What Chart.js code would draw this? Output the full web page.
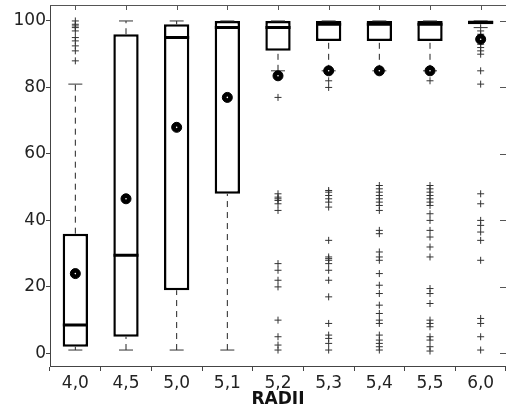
<!DOCTYPE html>
<html>
<head>
<meta charset="utf-8">
<script src="https://cdn.jsdelivr.net/npm/chart.js@4"></script>
<style>
  body { margin: 0; background: #fff; }
  #wrap { width: 506px; height: 413px; }
</style>
</head>
<body>
<div id="wrap"><canvas id="box-chart"></canvas></div>
<script>
"use strict";

// Categories (radii) and box statistics
var radii = ["4,0", "4,5", "5,0", "5,1", "5,2", "5,3", "5,4", "5,5", "6,0"];
var q1 = [2, 5, 19, 48, 91, 94, 94, 94, 99];
var q3 = [36, 96, 99, 100, 100, 100, 100, 100, 100];
var medians = [8.5, 29.5, 95, 98, 98, 99, 99, 99, 99.6];
var means = [24, 46.5, 68, 77, 83.5, 85, 85, 85, 94.5];
var whiskerLow = [1, 1, 1, 1, 85, 85, 85, 85, 98];
var whiskerHigh = [81, 100, 100, 100, 100, 100, 100, 100, 100];
var yTicks = [0, 20, 40, 60, 80, 100];

// Outliers per category
var outliers = [
    [100, 99, 98.5, 98, 97, 95, 94, 92.5, 91, 88],
    [],
    [],
    [],
    [77, 48, 47, 46.5, 46, 45, 43, 27, 25, 22, 20, 10, 5, 2.5, 1],
    [82, 80, 49, 48.5, 47.5, 46.5, 45.5, 44, 34, 29, 28.5, 28, 27, 25, 22, 17, 9, 5.5, 4.5, 3, 1],
    [50.5, 49.5, 48.5, 47.5, 46.5, 45.5, 44.5, 43, 37, 36, 30.5, 29, 28, 24, 20.5, 18, 14.5, 12, 10, 9, 5.5, 4, 3, 2, 1],
    [82, 50.5, 49.5, 48.5, 47.5, 46.5, 45.5, 44.5, 42, 40, 37, 35, 32, 29, 19.5, 18, 15, 10, 9, 8, 5, 4, 2, 0.7],
    [97, 96, 93, 92, 91, 90, 85, 81, 48, 45, 40, 38.5, 36.5, 34, 28, 10.5, 9, 5, 1]
];

function pts(values) {
    return radii.map(function (c, i) { return { x: c, y: values[i] }; });
}

// Whisker segments, broken with nulls
var whiskerPts = [];
radii.forEach(function (c, i) {
    whiskerPts.push({ x: c, y: whiskerLow[i] }, { x: c, y: q1[i] }, { x: c, y: null });
    whiskerPts.push({ x: c, y: q3[i] }, { x: c, y: whiskerHigh[i] }, { x: c, y: null });
});

var capPts = pts(whiskerLow).concat(pts(whiskerHigh));

var outlierPts = [];
radii.forEach(function (c, i) {
    outliers[i].forEach(function (v) { outlierPts.push({ x: c, y: v }); });
});

// Top border and inward ticks on top / right
var frameTicks = {
    id: "frameTicks",
    afterDraw: function (chart) {
        var ctx = chart.ctx, a = chart.chartArea;
        var xs = chart.scales.x, ys = chart.scales.y;
        ctx.save();
        ctx.strokeStyle = "#555";
        ctx.lineWidth = 1;
        ctx.beginPath();
        ctx.moveTo(a.left, a.top + 0.5);
        ctx.lineTo(a.right, a.top + 0.5);
        xs.ticks.forEach(function (t, i) {
            var px = Math.round(xs.getPixelForTick(i)) + 0.5;
            ctx.moveTo(px, a.top);
            ctx.lineTo(px, a.top + 5);
        });
        ys.ticks.forEach(function (t, i) {
            var py = Math.round(ys.getPixelForTick(i)) + 0.5;
            ctx.moveTo(a.right, py);
            ctx.lineTo(a.right - 6, py);
        });
        ctx.stroke();
        ctx.restore();
    }
};

var tickFont = { family: "DejaVu Sans", size: 17 };

new Chart(document.getElementById("box-chart"), {
    type: "bar",
    data: {
        labels: radii,
        datasets: [
            {
                label: "box",
                data: radii.map(function (c, i) { return [q1[i], q3[i]]; }),
                backgroundColor: "#fff",
                borderColor: "#000",
                borderWidth: 2.5,
                borderSkipped: false,
                barPercentage: 0.5,
                categoryPercentage: 1.0,
                order: 6
            },
            {
                type: "line",
                label: "whiskers",
                data: whiskerPts,
                borderColor: "#222",
                borderWidth: 1,
                borderDash: [6, 5],
                pointRadius: 0,
                spanGaps: false,
                order: 5
            },
            {
                type: "line",
                label: "caps",
                data: capPts,
                showLine: false,
                pointStyle: "line",
                pointRadius: 7,
                borderColor: "#333",
                borderWidth: 1,
                order: 4
            },
            {
                type: "line",
                label: "median",
                data: pts(medians),
                showLine: false,
                pointStyle: "line",
                pointRadius: 12.5,
                borderColor: "#000",
                borderWidth: 3,
                order: 3
            },
            {
                type: "line",
                label: "outliers",
                data: outlierPts,
                showLine: false,
                pointStyle: "cross",
                pointRadius: 3.5,
                borderColor: "#333",
                borderWidth: 1,
                order: 2
            },
            {
                type: "line",
                label: "mean",
                data: pts(means),
                showLine: false,
                pointStyle: "circle",
                pointRadius: 5,
                backgroundColor: "#000",
                borderColor: "#000",
                borderWidth: 1,
                order: 1
            },
            {
                type: "line",
                label: "mean dot",
                data: pts(means),
                showLine: false,
                pointStyle: "circle",
                pointRadius: 0.8,
                backgroundColor: "#fff",
                borderWidth: 0,
                order: 0
            }
        ]
    },
    options: {
        responsive: true,
        maintainAspectRatio: false,
        animation: false,
        layout: { autoPadding: false, padding: { top: 5, right: -3, left: 0, bottom: 0 } },
        plugins: {
            legend: { display: false },
            tooltip: { enabled: false }
        },
        scales: {
            x: {
                type: "category",
                grid: { display: true, drawOnChartArea: false, tickLength: 5, color: "#444" },
                border: { display: true, color: "#444" },
                ticks: { font: tickFont, color: "#222", padding: 2, maxRotation: 0 },
                title: { display: true, text: "RADII", color: "#111", font: { family: "DejaVu Sans", size: 17, weight: "bold" }, padding: { top: 0, bottom: 3 } },
                afterFit: function (s) {
                    s.height = 47;
                    s.paddingLeft = 0;
                    s.paddingRight = 0;
                }
            },
            y: {
                min: -3.8,
                max: 104.8,
                grid: { display: true, drawOnChartArea: false, tickLength: 4, color: "#444" },
                border: { display: true, color: "#444" },
                ticks: { font: tickFont, color: "#222", padding: 0 },
                afterBuildTicks: function (s) { s.ticks = yTicks.map(function (v) { return { value: v }; }); },
                afterFit: function (s) {
                    s.width = 50;
                    s.paddingTop = 0;
                    s.paddingBottom = 0;
                }
            }
        }
    },
    plugins: [frameTicks]
});
</script>
</body>
</html>
